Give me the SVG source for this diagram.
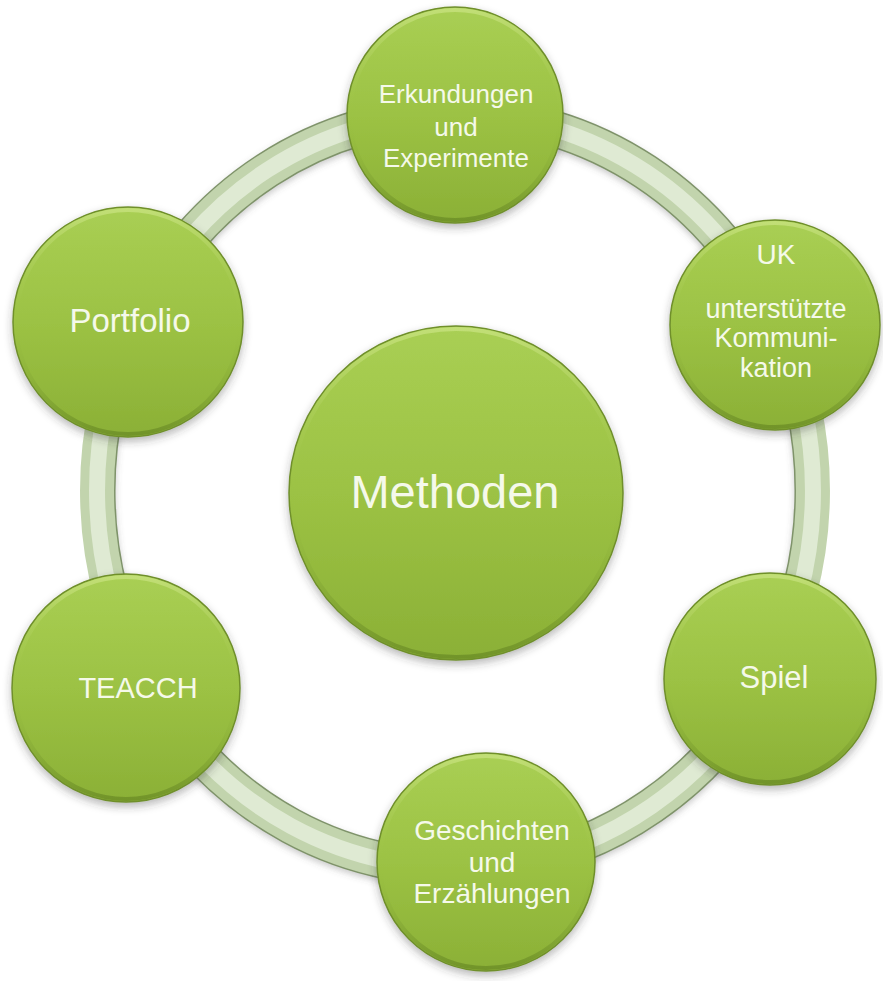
<svg xmlns="http://www.w3.org/2000/svg" width="883" height="981" viewBox="0 0 883 981">
  <defs>
    <linearGradient id="gFill" x1="0" y1="0" x2="0" y2="1">
      <stop offset="0" stop-color="#a9cf54"/>
      <stop offset="0.5" stop-color="#9cc244"/>
      <stop offset="1" stop-color="#8bb036"/>
    </linearGradient>
    <linearGradient id="gRim" x1="0" y1="0" x2="0" y2="1">
      <stop offset="0" stop-color="#c4e07a" stop-opacity="0.9"/>
      <stop offset="0.5" stop-color="#9cc244" stop-opacity="0"/>
      <stop offset="1" stop-color="#6f9128" stop-opacity="0.9"/>
    </linearGradient>
    <filter id="shadow" x="-20%" y="-20%" width="140%" height="140%">
      <feDropShadow dx="0" dy="4" stdDeviation="4" flood-color="#333" flood-opacity="0.35"/>
    </filter>
    <filter id="rshadow" x="-10%" y="-10%" width="120%" height="120%">
      <feDropShadow dx="0" dy="3" stdDeviation="3" flood-color="#555" flood-opacity="0.3"/>
    </filter>
  </defs>
  <style>
    .node { fill: url(#gFill); stroke: #6f8f2c; stroke-width: 1.5; filter: url(#shadow); }
    .bevel { fill: none; stroke: url(#gRim); stroke-width: 4; }
    .ring-edge { fill: none; stroke: #7f936b; stroke-width: 37; filter: url(#rshadow); }
    .ring-body { fill: none; stroke: #c2d4ad; stroke-width: 34; }
    .ring-hi { fill: none; stroke: #dfeAd3; stroke-width: 16; }
    text { font-family: "Liberation Sans", Arial, sans-serif; fill: #f5f9ea; text-anchor: middle; }
  </style>
  <rect width="883" height="981" fill="#ffffff"/>

  <g id="connectors">
    <g id="c1"><path class="ring-edge" d="M455,114 A358,377 0 0 1 777.8,328.1"/><path class="ring-body" d="M455,114 A358,377 0 0 1 777.8,328.1"/><path class="ring-hi" d="M455,114 A358,377 0 0 1 777.8,328.1"/></g>
    <g id="c2"><path class="ring-edge" d="M777.8,328.1 A358,377 0 0 1 768.7,672.6"/><path class="ring-body" d="M777.8,328.1 A358,377 0 0 1 768.7,672.6"/><path class="ring-hi" d="M777.8,328.1 A358,377 0 0 1 768.7,672.6"/></g>
    <g id="c3"><path class="ring-edge" d="M768.7,672.6 A358,377 0 0 1 488.7,866.3"/><path class="ring-body" d="M768.7,672.6 A358,377 0 0 1 488.7,866.3"/><path class="ring-hi" d="M768.7,672.6 A358,377 0 0 1 488.7,866.3"/></g>
    <g id="c4"><path class="ring-edge" d="M488.7,866.3 A358,377 0 0 1 145,679.5"/><path class="ring-body" d="M488.7,866.3 A358,377 0 0 1 145,679.5"/><path class="ring-hi" d="M488.7,866.3 A358,377 0 0 1 145,679.5"/></g>
    <g id="c5"><path class="ring-edge" d="M145,679.5 A358,377 0 0 1 135.5,321"/><path class="ring-body" d="M145,679.5 A358,377 0 0 1 135.5,321"/><path class="ring-hi" d="M145,679.5 A358,377 0 0 1 135.5,321"/></g>
    <g id="c6"><path class="ring-edge" d="M135.5,321 A358,377 0 0 1 455,114"/><path class="ring-body" d="M135.5,321 A358,377 0 0 1 455,114"/><path class="ring-hi" d="M135.5,321 A358,377 0 0 1 455,114"/></g>
  </g>

  <g id="node-methoden">
    <circle class="node" cx="456" cy="493" r="167"/>
    <circle class="bevel" cx="456" cy="493" r="164"/>
    <text x="455" y="508" font-size="47">Methoden</text>
  </g>

  <g id="node-erkundungen">
    <circle class="node" cx="455" cy="115" r="108"/>
    <circle class="bevel" cx="455" cy="115" r="105"/>
    <text x="456" y="103" font-size="26">Erkundungen</text>
    <text x="456" y="136" font-size="26">und</text>
    <text x="456" y="167" font-size="26">Experimente</text>
  </g>

  <g id="node-uk">
    <circle class="node" cx="775" cy="325" r="105"/>
    <circle class="bevel" cx="775" cy="325" r="102"/>
    <text x="776" y="264" font-size="28">UK</text>
    <text x="776" y="318" font-size="27">unterstützte</text>
    <text x="776" y="347" font-size="27">Kommuni-</text>
    <text x="776" y="377" font-size="27">kation</text>
  </g>

  <g id="node-spiel">
    <circle class="node" cx="770" cy="679" r="106"/>
    <circle class="bevel" cx="770" cy="679" r="103"/>
    <text x="774" y="688" font-size="31">Spiel</text>
  </g>

  <g id="node-geschichten">
    <circle class="node" cx="486" cy="862" r="109"/>
    <circle class="bevel" cx="486" cy="862" r="106"/>
    <text x="492" y="840" font-size="28">Geschichten</text>
    <text x="492" y="872" font-size="28">und</text>
    <text x="492" y="903" font-size="28">Erzählungen</text>
  </g>

  <g id="node-teacch">
    <circle class="node" cx="126" cy="688" r="114"/>
    <circle class="bevel" cx="126" cy="688" r="111"/>
    <text x="138" y="698" font-size="29">TEACCH</text>
  </g>

  <g id="node-portfolio">
    <circle class="node" cx="128" cy="322" r="115"/>
    <circle class="bevel" cx="128" cy="322" r="112"/>
    <text x="130" y="332" font-size="33">Portfolio</text>
  </g>
</svg>
